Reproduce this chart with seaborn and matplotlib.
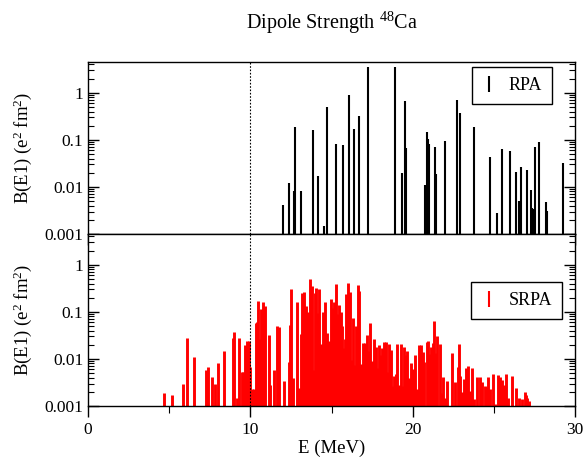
import matplotlib
matplotlib.use("Agg")
import matplotlib.pyplot as plt
from matplotlib.lines import Line2D
from matplotlib.ticker import LogLocator, FuncFormatter, MultipleLocator, NullFormatter
import seaborn as sns
import pandas as pd

# --- data ---
rpa_E = [11.99, 12.38, 12.69, 12.77, 13.10, 13.86, 14.15, 14.52, 14.72, 15.28,
         15.73, 16.06, 16.39, 16.69, 17.27, 18.89, 19.32, 19.51, 19.59, 20.74,
         20.86, 20.95, 21.00, 21.37, 21.46, 22.01, 22.71, 22.90, 23.76, 24.76,
         25.18, 25.49, 26.00, 26.37, 26.57, 26.67, 27.04, 27.27, 27.35, 27.41,
         27.54, 27.76, 28.21, 28.29, 29.26]
rpa_B = [0.0042, 0.0122, 0.0083, 0.19, 0.0081, 0.16, 0.017, 0.0015, 0.5, 0.083,
         0.077, 0.89, 0.17, 0.32, 3.5, 3.5, 0.02, 0.67, 0.066, 0.011,
         0.148, 0.105, 0.083, 0.07, 0.0186, 0.095, 0.69, 0.38, 0.19, 0.044,
         0.0028, 0.065, 0.058, 0.021, 0.005, 0.027, 0.023, 0.0085, 0.0036, 0.0034,
         0.07, 0.09, 0.0047, 0.0031, 0.032]

srpa_E = [4.67, 5.17, 5.85, 6.09, 6.52, 7.27, 7.39, 7.65, 7.82, 7.98,
          8.38, 8.93, 9.01, 9.18, 9.30, 9.49, 9.57, 9.67, 9.80, 9.90,
          10.00, 10.12, 10.21, 10.33, 10.40, 10.48, 10.57, 10.68, 10.78, 10.88,
          11.15, 11.23, 11.46, 11.67, 11.75, 12.10, 12.35, 12.45, 12.51, 12.65,
          12.90, 13.01, 13.09, 13.17, 13.29, 13.40, 13.48, 13.58, 13.69, 13.77,
          13.87, 13.97, 14.06, 14.14, 14.24, 14.38, 14.46, 14.59, 14.69, 14.83,
          14.94, 15.04, 15.14, 15.25, 15.33, 15.43, 15.56, 15.64, 15.74, 15.85,
          15.91, 15.99, 16.07, 16.15, 16.23, 16.31, 16.40, 16.48, 16.60, 16.71,
          16.81, 16.96, 17.08, 17.16, 17.27, 17.39, 17.51, 17.64, 17.76, 17.86,
          17.94, 18.04, 18.13, 18.25, 18.33, 18.41, 18.52, 18.60, 18.69, 18.78,
          18.87, 18.95, 19.06, 19.15, 19.28, 19.38, 19.49, 19.59, 19.67, 19.77,
          19.88, 19.94, 20.04, 20.14, 20.27, 20.37, 20.49, 20.62, 20.72, 20.85,
          20.97, 21.05, 21.13, 21.23, 21.34, 21.44, 21.52, 21.65, 21.75, 21.85,
          21.96, 22.14, 22.45, 22.61, 22.76, 22.84, 22.94, 23.04, 23.17, 23.31,
          23.40, 23.52, 23.64, 23.75, 23.99, 24.14, 24.26, 24.43, 24.51, 24.63,
          24.75, 24.92, 25.04, 25.27, 25.37, 25.49, 25.60, 25.74, 25.86, 26.11,
          26.38, 26.56, 26.71, 26.89, 26.98, 27.06, 27.18]
srpa_B = [0.0019, 0.0017, 0.0029, 0.028, 0.011, 0.0058, 0.0068, 0.0041, 0.0029, 0.0082,
          0.0148, 0.028, 0.037, 0.0015, 0.028, 0.0053, 0.0053, 0.020, 0.024, 0.024,
          0.0067, 0.0023, 0.0023, 0.059, 0.06, 0.17, 0.026, 0.115, 0.16, 0.13,
          0.032, 0.0028, 0.0058, 0.05, 0.047, 0.0034, 0.0087, 0.052, 0.30, 0.0039,
          0.16, 0.0024, 0.034, 0.25, 0.26, 0.13, 0.017, 0.10, 0.50, 0.36,
          0.0058, 0.25, 0.32, 0.094, 0.30, 0.021, 0.097, 0.16, 0.035, 0.024,
          0.19, 0.12, 0.16, 0.39, 0.09, 0.14, 0.10, 0.051, 0.017, 0.027,
          0.24, 0.42, 0.089, 0.26, 0.0095, 0.073, 0.0075, 0.049, 0.37, 0.28,
          0.0078, 0.022, 0.022, 0.032, 0.0148, 0.057, 0.009, 0.026, 0.018, 0.0065,
          0.020, 0.012, 0.0174, 0.023, 0.023, 0.0053, 0.021, 0.0078, 0.0153, 0.0026,
          0.0044, 0.0047, 0.021, 0.0028, 0.021, 0.0027, 0.018, 0.012, 0.0146, 0.004,
          0.0081, 0.0058, 0.0062, 0.012, 0.0023, 0.020, 0.020, 0.014, 0.0088, 0.023,
          0.024, 0.0128, 0.018, 0.0218, 0.064, 0.0132, 0.030, 0.021, 0.0019, 0.0041,
          0.0015, 0.0034, 0.0132, 0.0033, 0.0066, 0.021, 0.0043, 0.002, 0.0037, 0.0063,
          0.0072, 0.0021, 0.0063, 0.0014, 0.0042, 0.0042, 0.0033, 0.0027, 0.0025, 0.0042,
          0.0023, 0.0049, 0.0011, 0.0046, 0.0042, 0.0036, 0.0028, 0.0048, 0.0015, 0.0043,
          0.0024, 0.0015, 0.0014, 0.002, 0.0017, 0.0015, 0.0013]

rpa = pd.DataFrame({"E": rpa_E, "B": rpa_B})
srpa = pd.DataFrame({"E": srpa_E, "B": srpa_B})

# --- style ---
sns.set_theme(style="ticks")
plt.rcParams["font.family"] = ["Liberation Serif", "DejaVu Serif"]
plt.rcParams["mathtext.fontset"] = "custom"
plt.rcParams["mathtext.rm"] = "Liberation Serif"
plt.rcParams["mathtext.it"] = "Liberation Serif:italic"
plt.rcParams["axes.edgecolor"] = "black"
plt.rcParams["axes.linewidth"] = 1.0
plt.rcParams["text.color"] = "black"
plt.rcParams["axes.labelcolor"] = "black"

TICK_FS = 12.5
LABEL_FS = 13.5
TITLE_FS = 14.5
LEG_FS = 13
YMIN, YMAX = 0.001, 4.5

fig, (ax1, ax2) = plt.subplots(2, 1, figsize=(5.88, 4.58), dpi=100, sharex=True)
fig.subplots_adjust(left=0.1497, right=0.978, top=0.8646, bottom=0.1135, hspace=0)

ax1.vlines(rpa["E"], YMIN, rpa["B"], color="black", lw=1.5)
ax2.vlines(srpa["E"], YMIN, srpa["B"], color="red", lw=2.1)

for ax in (ax1, ax2):
    ax.set_yscale("log")
    ax.set_ylim(YMIN, YMAX)
    ax.set_xlim(0, 30)
    ax.axvline(10, color="black", lw=0.8, ls=(0, (1.5, 1.5)))
    ax.yaxis.set_major_locator(LogLocator(base=10, numticks=10))
    ax.yaxis.set_minor_locator(LogLocator(base=10, subs=range(2, 10), numticks=20))
    ax.yaxis.set_major_formatter(FuncFormatter(lambda v, _: f"{v:g}"))
    ax.yaxis.set_minor_formatter(NullFormatter())
    ax.tick_params(axis="y", which="both", direction="in", left=True, right=True,
                   labelsize=TICK_FS, colors="black")
    ax.tick_params(axis="y", which="major", length=8, width=1)
    ax.tick_params(axis="y", which="minor", length=4, width=0.8)
    ax.set_ylabel("B(E1) (e$^2$ fm$^2$)", fontsize=LABEL_FS)
    ax.yaxis.set_label_coords(-0.11, 0.5)
    ax.xaxis.set_major_locator(MultipleLocator(10))
    ax.xaxis.set_minor_locator(MultipleLocator(5))

# ticks of the upper panel hang down into the lower one
ax1.tick_params(axis="x", which="both", bottom=True, top=False, direction="out",
                labelbottom=False, colors="black")
ax1.tick_params(axis="x", which="major", length=8, width=1)
ax1.tick_params(axis="x", which="minor", length=5, width=0.8)
ax2.tick_params(axis="x", which="both", bottom=True, top=False, direction="out",
                labelsize=TICK_FS, colors="black")
ax2.tick_params(axis="x", which="major", length=8, width=1)
ax2.tick_params(axis="x", which="minor", length=5, width=0.8)
ax2.set_xlabel("E (MeV)", fontsize=LABEL_FS, labelpad=1)

h1 = [Line2D([], [], ls="none", marker="|", markersize=12, mew=1.5, color="black")]
h2 = [Line2D([], [], ls="none", marker="|", markersize=12, mew=1.5, color="red")]
leg_kw = dict(loc="upper right", fontsize=LEG_FS, frameon=True, fancybox=False,
              edgecolor="black", framealpha=1, handlelength=0.8, handletextpad=0.7,
              borderaxespad=0, borderpad=0.55)
leg1 = ax1.legend(h1, ["RPA"], bbox_to_anchor=(0.953, 0.971), **leg_kw)
leg2 = ax2.legend(h2, ["SRPA"], bbox_to_anchor=(0.973, 0.719), **leg_kw)
for leg in (leg1, leg2):
    leg.get_frame().set_linewidth(1.0)

fig.text((0.1497 + 0.978) / 2, 1 - 23 / 458, "Dipole Strength $^{48}$Ca",
         ha="center", va="center", fontsize=TITLE_FS)

fig.savefig("out.png", dpi=100, facecolor="white")
